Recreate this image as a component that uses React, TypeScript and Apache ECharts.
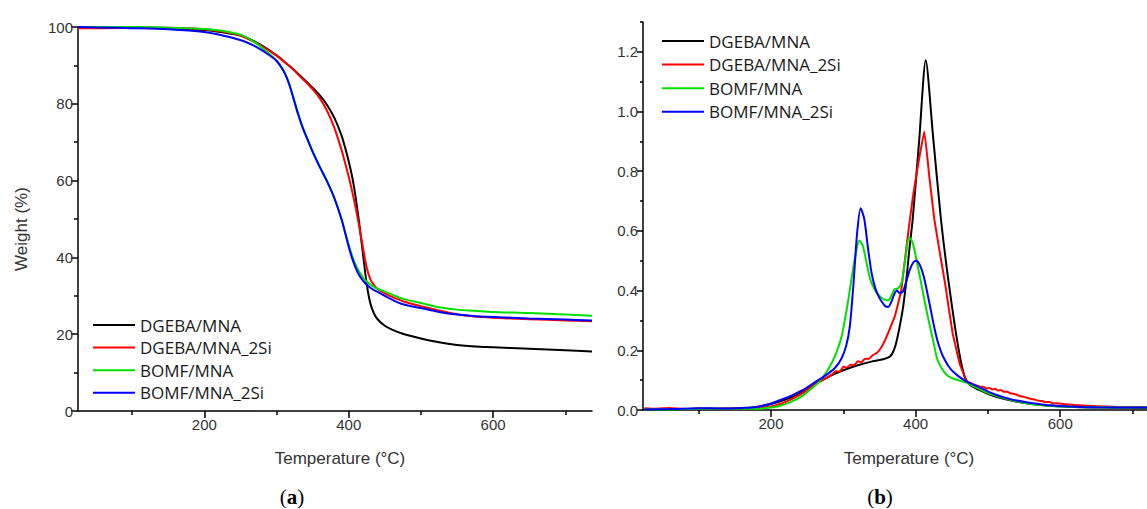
import React, { useEffect, useRef } from "react";
import * as echarts from "echarts";

const seriesNames = ["DGEBA/MNA", "DGEBA/MNA_2Si", "BOMF/MNA", "BOMF/MNA_2Si"];
const seriesColors = ["#000000", "#ff0000", "#00e000", "#0000ff"];

// (a) TGA: temperature grid and weight (%)
const tgaT = [25, 50, 100, 150, 200, 225, 250, 270, 285, 295, 300, 305, 310, 315, 320, 325, 330, 335, 340, 350, 360, 370, 380, 390, 395, 400, 405, 410, 415, 420, 425, 430, 435, 440, 450, 460, 475, 500, 525, 550, 575, 600, 650, 700, 737];
const tgaBlack = [100, 100, 99.9, 99.7, 99.2, 98.6, 97.8, 96.2, 94.6, 93.3, 92.6, 91.9, 91.1, 90.3, 89.5, 88.7, 87.8, 86.9, 86.0, 84.2, 82.2, 79.7, 76.4, 71.8, 68.6, 65.0, 60.8, 55.2, 48.2, 40.5, 33.0, 28.0, 25.4, 23.9, 22.2, 21.2, 20.1, 18.9, 17.9, 17.2, 16.8, 16.6, 16.2, 15.8, 15.5];
const tgaRed = [99.7, 99.7, 99.8, 99.8, 99.4, 98.8, 97.8, 96.0, 94.4, 93.2, 92.5, 91.8, 91.0, 90.3, 89.5, 88.6, 87.6, 86.7, 85.8, 83.8, 81.4, 78.2, 73.8, 68.0, 64.6, 61.0, 57.0, 52.6, 47.6, 42.2, 37.3, 34.3, 32.8, 31.8, 30.6, 29.7, 28.6, 27.3, 26.2, 25.2, 24.6, 24.3, 23.9, 23.6, 23.4];
const tgaGreen = [100, 100, 100, 99.8, 99.5, 99.0, 98.0, 96.0, 93.8, 92.2, 91.2, 89.9, 88.4, 86.4, 83.8, 80.6, 77.4, 74.6, 72.2, 67.6, 63.6, 59.8, 55.4, 49.9, 46.6, 43.3, 40.3, 37.9, 36.1, 34.7, 33.7, 32.9, 32.3, 31.8, 31.1, 30.3, 29.2, 28.1, 27.0, 26.4, 26.1, 25.8, 25.5, 25.1, 24.8];
const tgaBlue = [100, 99.9, 99.7, 99.4, 98.7, 97.8, 96.6, 95.0, 93.3, 92.0, 91.2, 90.0, 88.5, 86.4, 83.6, 80.4, 77.2, 74.4, 72.0, 67.5, 63.5, 59.8, 55.5, 50.0, 46.4, 42.8, 39.6, 37.1, 35.2, 33.9, 32.9, 32.1, 31.5, 31.0, 30.0, 29.0, 27.8, 26.8, 25.8, 25.1, 24.7, 24.5, 24.1, 23.8, 23.6];

// (b) DTG curves
const dtgBlackT = [25, 60, 100, 130, 160, 180, 200, 220, 240, 260, 280, 300, 320, 340, 355, 365, 372, 378, 383, 387, 391, 396, 405, 414, 424, 435, 445, 455, 462, 468, 475, 490, 510, 540, 580, 620, 660, 720];
const dtgBlack = [0.002, 0.002, 0.004, 0.004, 0.006, 0.010, 0.020, 0.035, 0.055, 0.085, 0.112, 0.133, 0.150, 0.163, 0.170, 0.180, 0.215, 0.280, 0.350, 0.430, 0.530, 0.640, 0.905, 1.172, 0.920, 0.640, 0.440, 0.270, 0.170, 0.110, 0.085, 0.065, 0.045, 0.028, 0.015, 0.010, 0.008, 0.007];

const dtgRedT = [25, 40, 60, 80, 100, 120, 140, 160, 180, 200, 215, 230, 245, 260, 275, 285, 290, 295, 300, 305, 310, 315, 320, 325, 330, 335, 340, 348, 356, 364, 372, 380, 388, 396, 404, 412, 419, 426, 434, 441, 451, 461, 470, 474, 478, 482, 486, 490, 494, 498, 502, 506, 510, 514, 518, 522, 526, 530, 534, 540, 545, 550, 555, 560, 565, 570, 575, 580, 585, 590, 595, 605, 620, 640, 660, 680, 700, 720];
const dtgRed = [0.006, 0.004, 0.007, 0.003, 0.005, 0.004, 0.006, 0.004, 0.007, 0.012, 0.022, 0.038, 0.058, 0.085, 0.105, 0.120, 0.131, 0.128, 0.145, 0.142, 0.152, 0.150, 0.163, 0.160, 0.172, 0.171, 0.182, 0.195, 0.225, 0.270, 0.320, 0.400, 0.560, 0.710, 0.830, 0.933, 0.780, 0.637, 0.520, 0.420, 0.260, 0.155, 0.100, 0.092, 0.088, 0.084, 0.081, 0.077, 0.078, 0.072, 0.074, 0.069, 0.071, 0.065, 0.067, 0.061, 0.062, 0.057, 0.055, 0.051, 0.046, 0.044, 0.040, 0.037, 0.035, 0.031, 0.030, 0.026, 0.027, 0.022, 0.023, 0.020, 0.017, 0.014, 0.012, 0.010, 0.010, 0.009];

const dtgGreenT = [25, 60, 100, 130, 160, 180, 200, 215, 230, 245, 255, 267, 280, 290, 297, 302, 307, 312, 317, 322, 327, 332, 337, 342, 347, 352, 357, 362, 367, 371, 376, 381, 386, 391, 396, 401, 406, 412, 418, 424, 430, 436, 442, 450, 460, 470, 480, 495, 510, 530, 555, 580, 610, 650, 700, 720];
const dtgGreen = [0.002, 0.002, 0.004, 0.004, 0.004, 0.004, 0.008, 0.016, 0.030, 0.050, 0.070, 0.095, 0.140, 0.190, 0.240, 0.300, 0.370, 0.450, 0.520, 0.568, 0.550, 0.495, 0.440, 0.410, 0.390, 0.378, 0.370, 0.368, 0.385, 0.405, 0.408, 0.430, 0.510, 0.580, 0.560, 0.505, 0.445, 0.370, 0.300, 0.235, 0.170, 0.140, 0.120, 0.107, 0.099, 0.092, 0.080, 0.062, 0.048, 0.034, 0.022, 0.015, 0.011, 0.009, 0.008, 0.008];

const dtgBlueT = [25, 60, 100, 130, 160, 180, 200, 215, 230, 245, 260, 275, 288, 297, 304, 309, 314, 319, 324, 329, 334, 339, 344, 349, 354, 358, 362, 366, 370, 374, 378, 382, 387, 392, 397, 401, 406, 411, 416, 421, 426, 431, 436, 441, 446, 452, 460, 470, 480, 495, 510, 530, 555, 580, 610, 650, 700, 720];
const dtgBlue = [0.002, 0.003, 0.006, 0.005, 0.007, 0.010, 0.022, 0.035, 0.050, 0.068, 0.092, 0.115, 0.140, 0.170, 0.215, 0.280, 0.420, 0.590, 0.676, 0.640, 0.545, 0.460, 0.410, 0.380, 0.360, 0.348, 0.345, 0.360, 0.385, 0.400, 0.392, 0.395, 0.430, 0.470, 0.495, 0.500, 0.485, 0.450, 0.395, 0.335, 0.275, 0.225, 0.190, 0.165, 0.145, 0.128, 0.112, 0.096, 0.085, 0.068, 0.052, 0.037, 0.025, 0.017, 0.012, 0.009, 0.008, 0.008];

// axis ticks and labels
const xMajor = [200, 400, 600];
const xMinor = [100, 300, 500, 700];
const dtgMajor = [0, 0.2, 0.4, 0.6, 0.8, 1.0, 1.2];
const dtgMinor = [0.1, 0.3, 0.5, 0.7, 0.9, 1.1, 1.3];

const zip = (xs: number[], ys: number[]) => xs.map((x, i) => [x, ys[i]]);

export default function App() {
  const ref = useRef<HTMLDivElement>(null);

  useEffect(() => {
    if (!ref.current) return;
    const chart = echarts.init(ref.current, undefined, { renderer: "svg" });

    const tickFont = { fontFamily: "Liberation Sans", fontSize: 15, color: "#333" };
    const axisLine = { show: true, lineStyle: { color: "#000", width: 1.5 } };

    const xMain = (gridIndex: number, min: number, max: number) => ({
      type: "value",
      gridIndex,
      min,
      max,
      position: "bottom",
      axisLine,
      axisTick: { show: true, customValues: xMajor, length: 7, lineStyle: { color: "#000", width: 1.5 } },
      axisLabel: { ...tickFont, customValues: xMajor, margin: 6 },
      splitLine: { show: false },
    });
    const xMin = (gridIndex: number, min: number, max: number) => ({
      type: "value",
      gridIndex,
      min,
      max,
      position: "bottom",
      axisLine: { show: false },
      axisTick: { show: true, customValues: xMinor, length: 4, lineStyle: { color: "#000", width: 1.5 } },
      axisLabel: { show: false },
      splitLine: { show: false },
    });

    const tgaSets = [tgaBlack, tgaRed, tgaGreen, tgaBlue];
    const dtgSets = [
      zip(dtgBlackT, dtgBlack),
      zip(dtgRedT, dtgRed),
      zip(dtgGreenT, dtgGreen),
      zip(dtgBlueT, dtgBlue),
    ];

    const series: any[] = [];
    seriesNames.forEach((name, i) => {
      series.push({
        type: "line",
        name,
        xAxisIndex: 0,
        yAxisIndex: 0,
        data: zip(tgaT, tgaSets[i]),
        symbol: "none",
        smooth: 0.3,
        lineStyle: { color: seriesColors[i], width: 2 },
        itemStyle: { color: seriesColors[i] },
        silent: true,
      });
    });
    seriesNames.forEach((name, i) => {
      series.push({
        type: "line",
        name,
        xAxisIndex: 2,
        yAxisIndex: 1,
        data: dtgSets[i],
        symbol: "none",
        smooth: i === 1 ? 0.1 : 0.25,
        lineStyle: { color: seriesColors[i], width: 2 },
        itemStyle: { color: seriesColors[i] },
        silent: true,
      });
    });

    const legendBase = {
      orient: "vertical",
      icon: "rect",
      itemWidth: 42,
      itemHeight: 2,
      selectedMode: false,
      padding: 0,
      data: seriesNames,
      textStyle: { fontFamily: "Open Sans", fontSize: 17, color: "#1a1a1a", lineHeight: 18 },
    };

    chart.setOption({
      animation: false,
      backgroundColor: "#ffffff",
      grid: [
        { left: 78, top: 27, width: 514, height: 384 },
        { left: 643, top: 22, width: 504, height: 388 },
      ],
      legend: [
        { ...legendBase, left: 93, top: 316, itemGap: 4.6 },
        { ...legendBase, left: 662, top: 32, itemGap: 5.6 },
      ],
      xAxis: [xMain(0, 25, 737), xMin(0, 25, 737), xMain(1, 23, 720), xMin(1, 23, 720)],
      yAxis: [
        {
          type: "value",
          gridIndex: 0,
          min: 0,
          max: 100,
          interval: 20,
          axisLine,
          axisTick: { show: true, length: 7, lineStyle: { color: "#000", width: 1.5 } },
          minorTick: { show: true, splitNumber: 2, length: 4, lineStyle: { color: "#000", width: 1.5 } },
          axisLabel: { ...tickFont, margin: 5 },
          splitLine: { show: false },
          minorSplitLine: { show: false },
        },
        {
          type: "value",
          gridIndex: 1,
          min: 0,
          max: 1.3,
          axisLine,
          axisTick: { show: true, customValues: dtgMajor, length: 6, lineStyle: { color: "#000", width: 1.5 } },
          axisLabel: { ...tickFont, customValues: dtgMajor, margin: 5, formatter: (v: number) => v.toFixed(1) },
          splitLine: { show: false },
        },
        {
          type: "value",
          gridIndex: 1,
          min: 0,
          max: 1.3,
          position: "left",
          axisLine: { show: false },
          axisTick: { show: true, customValues: dtgMinor, length: 3, lineStyle: { color: "#000", width: 1.5 } },
          axisLabel: { show: false },
          splitLine: { show: false },
        },
      ],
      graphic: [
        {
          type: "text",
          x: 21,
          y: 229,
          rotation: Math.PI / 2,
          style: { text: "Weight (%)", fontFamily: "Liberation Sans", fontSize: 17, fill: "#333", align: "center", verticalAlign: "middle" },
        },
        {
          type: "text",
          x: 340,
          y: 458,
          style: { text: "Temperature (°C)", fontFamily: "Liberation Sans", fontSize: 17, fill: "#333", align: "center", verticalAlign: "middle" },
        },
        {
          type: "text",
          x: 909,
          y: 458,
          style: { text: "Temperature (°C)", fontFamily: "Liberation Sans", fontSize: 17, fill: "#333", align: "center", verticalAlign: "middle" },
        },
        {
          type: "text",
          x: 292,
          y: 497,
          style: {
            text: "{p|(}{b|a}{p|)}",
            align: "center",
            verticalAlign: "middle",
            rich: {
              p: { fontFamily: "Liberation Serif", fontSize: 21, fill: "#000" },
              b: { fontFamily: "Liberation Serif", fontSize: 21, fontWeight: "bold", fill: "#000" },
            },
          },
        },
        {
          type: "text",
          x: 880,
          y: 497,
          style: {
            text: "{p|(}{b|b}{p|)}",
            align: "center",
            verticalAlign: "middle",
            rich: {
              p: { fontFamily: "Liberation Serif", fontSize: 21, fill: "#000" },
              b: { fontFamily: "Liberation Serif", fontSize: 21, fontWeight: "bold", fill: "#000" },
            },
          },
        },
      ],
      series,
    });

    return () => chart.dispose();
  }, []);

  return (
    <div
      ref={ref}
      style={{ position: "fixed", left: 0, top: 0, width: 1147, height: 509, background: "#fff" }}
    />
  );
}
